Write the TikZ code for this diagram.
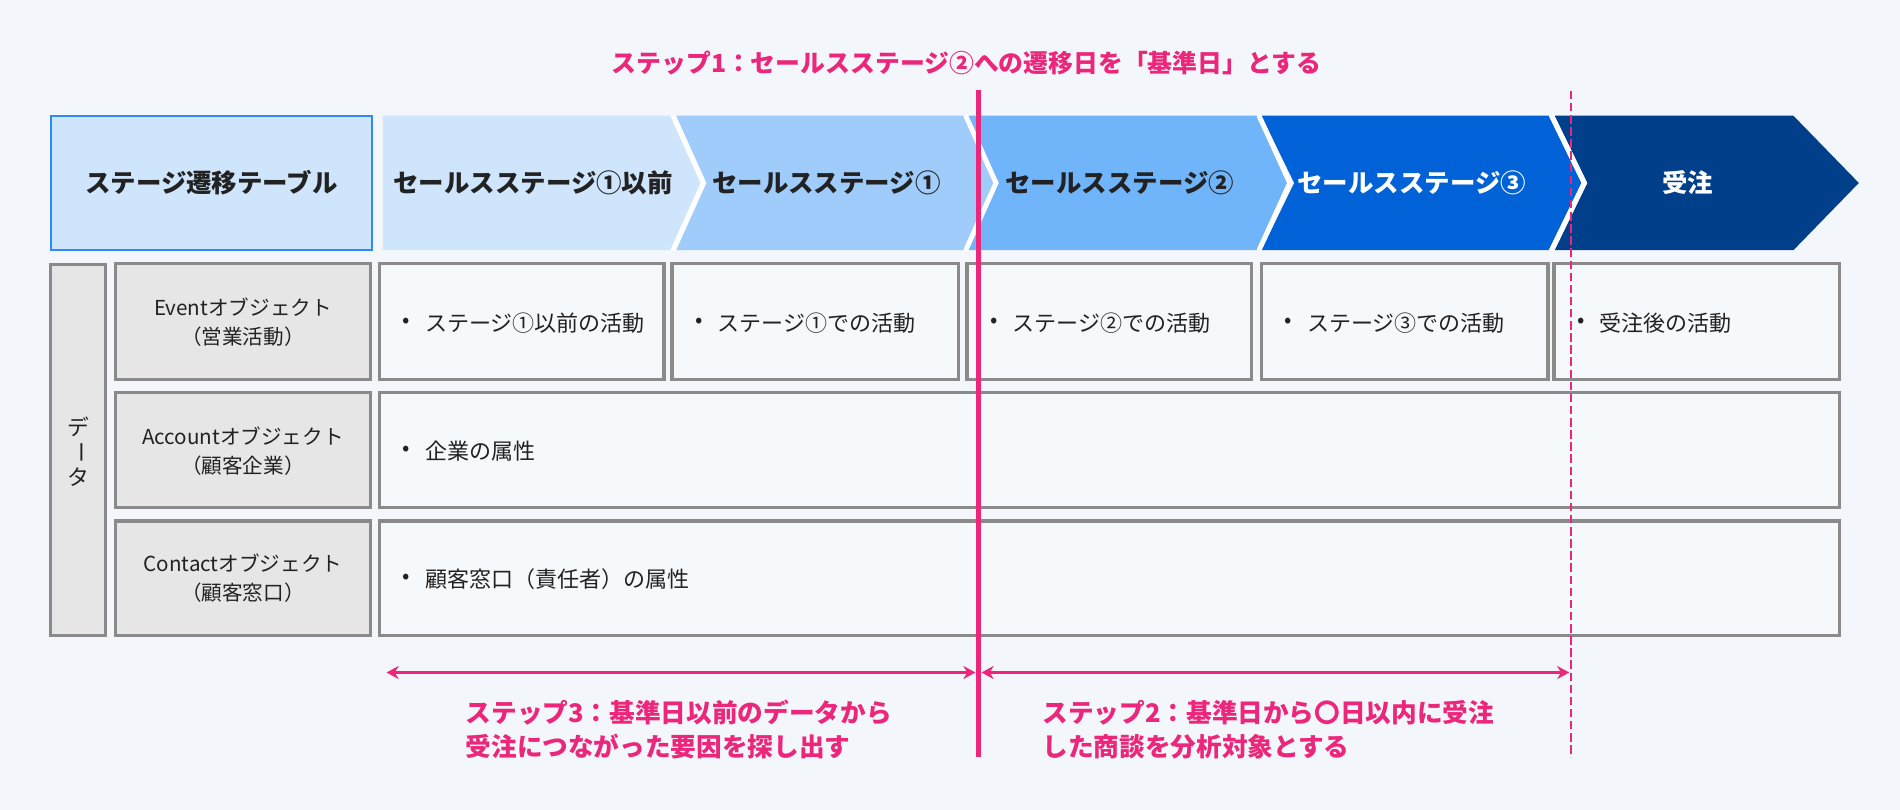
\documentclass[tikz,border=0pt]{standalone}
\usepackage{fontspec}
\setmainfont{Noto Sans CJK JP}
\usetikzlibrary{arrows.meta}
\definecolor{bgc}{RGB}{243,247,251}
\definecolor{cellc}{RGB}{246,249,252}
\definecolor{grayfill}{RGB}{230,230,230}
\definecolor{grayline}{RGB}{138,138,138}
\definecolor{hdrfill}{RGB}{207,229,252}
\definecolor{hdrline}{RGB}{46,139,245}
\definecolor{chA}{RGB}{207,229,252}
\definecolor{chB}{RGB}{160,204,251}
\definecolor{chC}{RGB}{112,180,250}
\definecolor{chD}{RGB}{0,98,214}
\definecolor{chE}{RGB}{1,63,138}
\definecolor{pinkc}{RGB}{236,38,122}
\definecolor{txtc}{RGB}{34,34,34}
\tikzset{
  graybox/.style={draw=grayline,line width=1.6pt,fill=grayfill},
  cellbox/.style={draw=grayline,line width=1.6pt,fill=cellc},
  hdrtext/.style={font=\fontsize{12.6}{14}\selectfont\bfseries,text=txtc,inner sep=0pt},
  hdrwhite/.style={hdrtext,text=white},
  labeltext/.style={font=\fontsize{10.2}{14.4}\selectfont,text=txtc,align=center,inner sep=0pt},
  celltext/.style={font=\fontsize{10.9}{13}\selectfont,text=txtc,inner sep=0pt,anchor=west},
  bullettext/.style={font=\fontsize{10.8}{13}\selectfont,text=txtc,inner sep=0pt},
  pinktext/.style={font=\fontsize{12.7}{16.8}\selectfont\bfseries,text=pinkc,inner sep=0pt,align=left},
  pinkarrow/.style={draw=pinkc,line width=1.3pt,{Stealth[length=6pt,width=6.5pt]}-{Stealth[length=6pt,width=6.5pt]}},
  gapline/.style={draw=white,line width=2.4pt,line join=miter},
}
\begin{document}
\begin{tikzpicture}[x=0.6pt,y=-0.6pt]
\fill[bgc] (0,0) rectangle (1568,668.46);
\useasboundingbox (0,0) rectangle (1568,668.46);

% title
\node[pinktext,font=\fontsize{12.3}{14}\selectfont\bfseries] (title) at (797.5,52) {ステップ1：セールスステージ②への遷移日を「基準日」とする};

% header box
\node[draw=hdrline,line width=1.2pt,fill=hdrfill,minimum width=265*0.6pt,minimum height=111*0.6pt,inner sep=0pt] (hdr) at (174.5,151) {};
\node[hdrtext] (hdrlabel) at (hdr.center) {ステージ遷移テーブル};

% chevrons
\def\ty{95.5}\def\by{206.5}\def\my{151}
\fill[chA] (316,\ty) -- (553,\ty) -- (578,\my) -- (553,\by) -- (316,\by) -- cycle;
\fill[chB] (558,\ty) -- (795,\ty) -- (820,\my) -- (795,\by) -- (558,\by) -- (583,\my) -- cycle;
\fill[chC] (799,\ty) -- (1037,\ty) -- (1062,\my) -- (1037,\by) -- (799,\by) -- (824,\my) -- cycle;
\fill[chD] (1041,\ty) -- (1278,\ty) -- (1305,\my) -- (1278,\by) -- (1041,\by) -- (1068,\my) -- cycle;
\fill[chE] (1283,\ty) -- (1480,\ty) -- (1534,\my) -- (1480,\by) -- (1283,\by) -- (1310,\my) -- cycle;
% white separators
\draw[gapline] (555.5,\ty) -- (580.5,\my) -- (555.5,\by);
\draw[gapline] (797,\ty) -- (822,\my) -- (797,\by);
\draw[gapline] (1039,\ty) -- (1064.5,\my) -- (1039,\by);
\draw[gapline] (1280.5,\ty) -- (1307.5,\my) -- (1280.5,\by);
\node[hdrtext] (c1) at (440,151) {セールスステージ①以前};
\node[hdrtext] (c2) at (682,151) {セールスステージ①};
\node[hdrtext] (c3) at (924,151) {セールスステージ②};
\node[hdrwhite] (c4) at (1165,151) {セールスステージ③};
\node[hdrwhite] (c5) at (1393,151) {受注};

% data column
\draw[graybox] (41.5,218) rectangle (87,524.5);
\node[labeltext,font=\fontsize{10.8}{13}\selectfont] (d1) at (64.5,352) {デ};
\node[labeltext,font=\fontsize{10.8}{13}\selectfont,rotate=-90] (d2) at (64.5,373) {ー};
\node[labeltext,font=\fontsize{10.8}{13}\selectfont] (d3) at (64.5,394) {タ};

% row labels
\draw[graybox] (95,217.5) rectangle (306,313);
\draw[graybox] (95,324) rectangle (306,419);
\draw[graybox] (95,430) rectangle (306,524.5);
\node[labeltext] (l1) at (200.5,266) {Eventオブジェクト\\（営業活動）};
\node[labeltext] (l2) at (200.5,372) {Accountオブジェクト\\（顧客企業）};
\node[labeltext] (l3) at (200.5,477.5) {Contactオブジェクト\\（顧客窓口）};

% row 1 cells
\draw[cellbox] (313,217.5) rectangle (548,313);
\draw[cellbox] (554.5,217.5) rectangle (791,313);
\draw[cellbox] (798,217.5) rectangle (1033,313);
\draw[cellbox] (1041,217.5) rectangle (1277.5,313);
\draw[cellbox] (1282.5,217.5) rectangle (1518,313);
% rows 2,3
\draw[cellbox] (313,324) rectangle (1518,419);
\draw[cellbox] (313,430) rectangle (1518,524.5);

\newcommand{\bulletitem}[4]{%
  \node[bullettext] (#1b) at (#2+22.5,#3) {•};
  \node[celltext] (#1t) at (#2+37.5,#3) {#4};}
\bulletitem{r1a}{313}{266.5}{ステージ①以前の活動}
\bulletitem{r1b}{554.5}{266.5}{ステージ①での活動}
\bulletitem{r1c}{798}{266.5}{ステージ②での活動}
\bulletitem{r1d}{1041}{266.5}{ステージ③での活動}
\bulletitem{r1e}{1282.5}{266.5}{受注後の活動}
\bulletitem{r2}{313}{372}{企業の属性}
\bulletitem{r3}{313}{478}{顧客窓口（責任者）の属性}

% pink lines
\coordinate (solidtop) at (807.5,74);
\coordinate (solidbot) at (807.5,625);
\coordinate (dashtop) at (1296.6,75);
\coordinate (dashbot) at (1296.6,625);
\draw[pinkc,line width=2.6pt] (solidtop) -- (solidbot);
\draw[pinkc,line width=1.2pt,dash pattern=on 4.2pt off 1.8pt] (dashtop) -- (dashbot);

% arrows
\coordinate (a1l) at (319,555);
\coordinate (a1r) at (805,555);
\coordinate (a2l) at (810,555);
\coordinate (a2r) at (1295,555);
\draw[pinkarrow] (a1l) -- (a1r);
\draw[pinkarrow] (a2l) -- (a2r);

% bottom texts
\node[pinktext,anchor=west] (s3) at (384,602) {ステップ3：基準日以前のデータから\\受注につながった要因を探し出す};
\node[pinktext,anchor=west] (s2) at (860,602) {ステップ2：基準日から〇日以内に受注\\した商談を分析対象とする};
\end{tikzpicture}
\end{document}
